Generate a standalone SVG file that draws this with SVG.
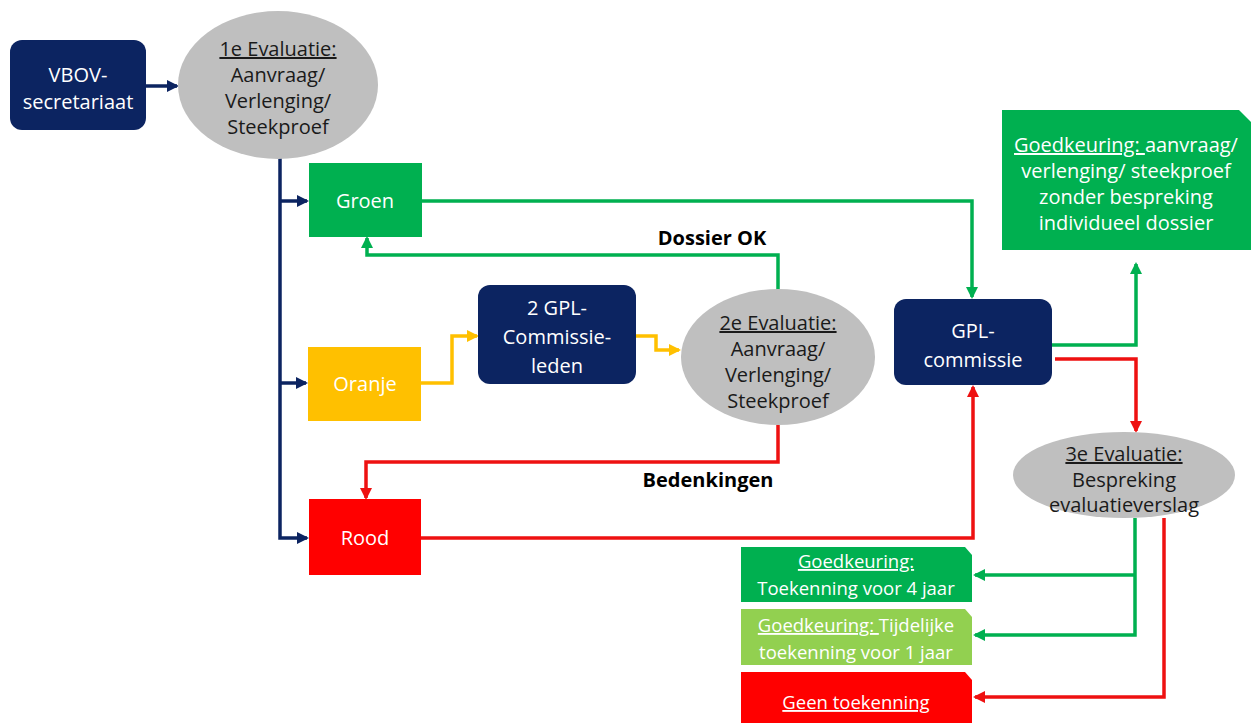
<svg xmlns="http://www.w3.org/2000/svg" width="1251" height="723" viewBox="0 0 1251 723">
<style>
text{font-family:"Open Sans","Noto Sans",sans-serif;font-size:20px;text-anchor:middle}
.s{font-size:18.5px}
.w{fill:#ffffff}
.k{fill:#1a1a1a}
.b{font-weight:bold;fill:#000}
.u{text-decoration:underline}
.navy{fill:#0c2461}
.gray{fill:#bfbfbf}
.ln{fill:none;stroke-width:3.5}
.ln-n{stroke:#0c2461}
.ln-g{stroke:#00b050}
.ln-y{stroke:#ffc000}
.ln-r{stroke:#ee1111}
</style>
<defs>
<marker id="an" markerUnits="userSpaceOnUse" markerWidth="12" markerHeight="12" refX="10" refY="6" orient="auto"><path d="M0,0 L12,6 L0,12 Z" fill="#0c2461"/></marker>
<marker id="ag" markerUnits="userSpaceOnUse" markerWidth="12" markerHeight="12" refX="10" refY="6" orient="auto"><path d="M0,0 L12,6 L0,12 Z" fill="#00b050"/></marker>
<marker id="ay" markerUnits="userSpaceOnUse" markerWidth="12" markerHeight="12" refX="10" refY="6" orient="auto"><path d="M0,0 L12,6 L0,12 Z" fill="#ffc000"/></marker>
<marker id="ar" markerUnits="userSpaceOnUse" markerWidth="12" markerHeight="12" refX="10" refY="6" orient="auto"><path d="M0,0 L12,6 L0,12 Z" fill="#ee1111"/></marker>
</defs>
<rect width="1251" height="723" fill="#ffffff"/>

<g id="connectors">
<path class="ln ln-n" d="M146,86 H177" marker-end="url(#an)"/>
<path class="ln ln-n" d="M280,158 V538 H307" marker-end="url(#an)"/>
<path class="ln ln-n" d="M280,201 H307" marker-end="url(#an)"/>
<path class="ln ln-n" d="M280,383 H306" marker-end="url(#an)"/>
<path class="ln ln-g" d="M422,201 H972 V297" marker-end="url(#ag)"/>
<path class="ln ln-g" d="M778,290 V255 H367 V238" marker-end="url(#ag)"/>
<path class="ln ln-y" d="M421,383 H452 V336 H477" marker-end="url(#ay)"/>
<path class="ln ln-y" d="M636,336 H656 V350 H679" marker-end="url(#ay)"/>
<path class="ln ln-r" d="M778,425 V462 H366 V498" marker-end="url(#ar)"/>
<path class="ln ln-r" d="M421,538 H973 V387" marker-end="url(#ar)"/>
<path class="ln ln-g" d="M1052,345 H1136 V264" marker-end="url(#ag)"/>
<path class="ln ln-r" d="M1055,359 H1136 V431" marker-end="url(#ar)"/>
<path class="ln ln-g" d="M1135,518 V635 H975" marker-end="url(#ag)"/>
<path class="ln ln-g" d="M1135,575 H975" marker-end="url(#ag)"/>
<path class="ln ln-r" d="M1164,518 V697 H975" marker-end="url(#ar)"/>
</g>

<g id="vbov">
<rect class="navy" x="10" y="40" width="136" height="90" rx="12"/>
<text class="w" x="78" y="82">VBOV-</text>
<text class="w" x="78" y="109">secretariaat</text>
</g>

<g id="eval1">
<ellipse class="gray" cx="278" cy="85" rx="100" ry="74"/>
<text class="k" x="278" y="56"><tspan class="u">1e Evaluatie:</tspan></text>
<text class="k" x="278" y="82">Aanvraag/</text>
<text class="k" x="278" y="108">Verlenging/</text>
<text class="k" x="278" y="134">Steekproef</text>
</g>

<g id="groen">
<rect x="309" y="163" width="113" height="74" fill="#00b050"/>
<text class="w" x="365" y="208">Groen</text>
</g>

<g id="oranje">
<rect x="308" y="347" width="113" height="74" fill="#ffc000"/>
<text class="w" x="365" y="391">Oranje</text>
</g>

<g id="rood">
<rect x="309" y="499" width="112" height="76" fill="#ff0000"/>
<text class="w" x="365" y="545">Rood</text>
</g>

<g id="gpl2">
<rect class="navy" x="478" y="285" width="158" height="99" rx="12"/>
<text class="w" x="557" y="315">2 GPL-</text>
<text class="w" x="557" y="344">Commissie-</text>
<text class="w" x="557" y="373">leden</text>
</g>

<g id="eval2">
<ellipse class="gray" cx="778" cy="357" rx="97" ry="68"/>
<text class="k" x="778" y="330"><tspan class="u">2e Evaluatie:</tspan></text>
<text class="k" x="778" y="356">Aanvraag/</text>
<text class="k" x="778" y="382">Verlenging/</text>
<text class="k" x="778" y="408">Steekproef</text>
</g>

<g id="label-ok">
<text class="b" x="712" y="245">Dossier OK</text>
</g>
<g id="label-bed">
<text class="b" x="708" y="487">Bedenkingen</text>
</g>

<g id="gpl">
<rect class="navy" x="894" y="299" width="158" height="86" rx="12"/>
<text class="w" x="973" y="338">GPL-</text>
<text class="w" x="973" y="367">commissie</text>
</g>

<g id="goed-top">
<path d="M1002,110 H1239 L1251,122 V250 H1002 Z" fill="#00b050"/>
<text class="w" x="1126" y="152"><tspan class="u">Goedkeuring: </tspan>aanvraag/</text>
<text class="w" x="1126" y="178">verlenging/ steekproef</text>
<text class="w" x="1126" y="204">zonder  bespreking</text>
<text class="w" x="1126" y="230">individueel dossier</text>
</g>

<g id="eval3">
<ellipse class="gray" cx="1124" cy="475" rx="111" ry="43"/>
<text class="k" x="1124" y="461"><tspan class="u">3e Evaluatie:</tspan></text>
<text class="k" x="1124" y="487">Bespreking</text>
<text class="k" x="1124" y="512">evaluatieverslag</text>
</g>

<g id="goed4">
<path d="M741,547 H965 L972,555 V602 H741 Z" fill="#00b050"/>
<text class="w s" x="856" y="568"><tspan class="u">Goedkeuring:</tspan></text>
<text class="w s" x="856" y="595">Toekenning voor 4 jaar</text>
</g>

<g id="goed1">
<path d="M741,609 H965 L972,617 V665 H741 Z" fill="#92d050"/>
<text class="w s" x="856" y="632"><tspan class="u">Goedkeuring: </tspan>Tijdelijke</text>
<text class="w s" x="856" y="659">toekenning voor 1 jaar</text>
</g>

<g id="geen">
<path d="M741,672 H965 L972,680 V723 H741 Z" fill="#ff0000"/>
<text class="w s" x="856" y="709"><tspan class="u">Geen toekenning</tspan></text>
</g>
</svg>
